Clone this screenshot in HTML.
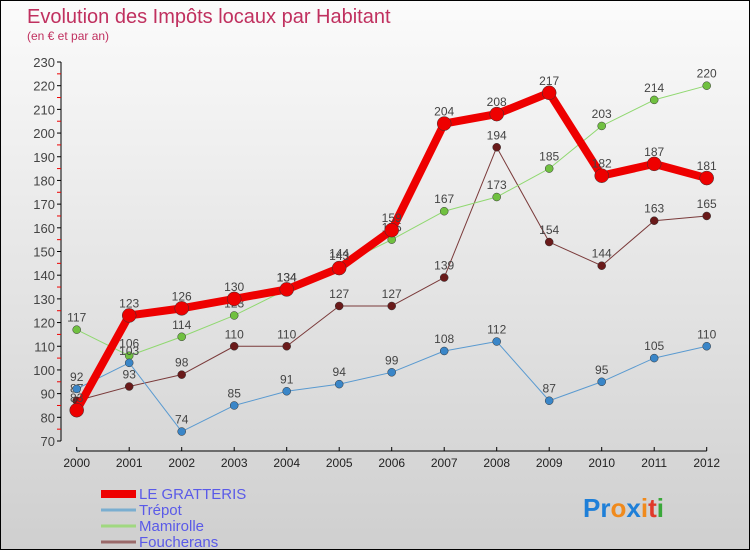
<!DOCTYPE html>
<html><head><meta charset="utf-8"><style>
html,body{margin:0;padding:0}
body{width:750px;height:550px;overflow:hidden;font-family:"Liberation Sans",sans-serif}
#wrap{position:relative;width:748px;height:548px;border:1px solid #000;background:linear-gradient(#fbfbfb,#cfcfcf)}
</style></head><body>
<div id="wrap">
<svg id="chart" width="748" height="548" style="position:absolute;left:0;top:0">
<text x="26" y="22" font-size="20" fill="#c0305f">Evolution des Impôts locaux par Habitant</text>
<text x="26" y="39" font-size="12" fill="#c0305f">(en € et par an)</text>
<g id="axes"></g>
<g id="series"></g>
<g id="legend"></g>
<text x="582" y="516" font-size="26" font-weight="bold"><tspan fill="#1e7fd8">Pr</tspan><tspan fill="#f08a1c">o</tspan><tspan fill="#1e7fd8">x</tspan><tspan fill="#f08a1c">i</tspan><tspan fill="#e03a2a">t</tspan><tspan fill="#3aa83a">i</tspan></text>
</svg>
</div>
<script>
const years=["2000","2001","2002","2003","2004","2005","2006","2007","2008","2009","2010","2011","2012"];
const gratteris=[83,123,126,130,134,143,159,204,208,217,182,187,181];
const trepot=[92,103,74,85,91,94,99,108,112,87,95,105,110];
const mamirolle=[117,106,114,123,134,144,155,167,173,185,203,214,220];
const foucherans=[87,93,98,110,110,127,127,139,194,154,144,163,165];
const yTicks=[70,80,90,100,110,120,130,140,150,160,170,180,190,200,210,220,230];
const seriesNames=["LE GRATTERIS","Trépot","Mamirolle","Foucherans"];
const NS="http://www.w3.org/2000/svg";
function X(i){return 75.7+i*52.5;}
function Y(v){return 440-(v-70)*(379/160);}
function mk(t,a,p){const e=document.createElementNS(NS,t);for(const k in a)e.setAttribute(k,a[k]);p.appendChild(e);return e;}
const ax=document.getElementById('axes');
let l=mk('line',{x1:60,y1:Y(230),x2:60,y2:440,stroke:'#000'},ax);


yTicks.forEach(v=>{
  mk('line',{x1:56,y1:Y(v),x2:60,y2:Y(v),stroke:'#000'},ax);
  if(v<230)mk('line',{x1:56,y1:Y(v+5),x2:60,y2:Y(v+5),stroke:'#e00'},ax);
  const t=mk('text',{x:54,y:Y(v)+5,'text-anchor':'end','font-size':13,fill:'#444'},ax);t.textContent=v;
  
  
});
l=mk('line',{x1:X(0),y1:450,x2:X(12),y2:450,stroke:'#000'},ax);


years.forEach((y,i)=>{
  mk('line',{x1:X(i),y1:446,x2:X(i),y2:450,stroke:'#000'},ax);
  const t=mk('text',{x:X(i),y:466,'text-anchor':'middle','font-size':12,fill:'#222'},ax);t.textContent=y;
  
  
});
const sg=document.getElementById('series');
function draw(data,color,w,r,dot,name){
  const g=mk('g',{},sg);
  
  
  mk('polyline',{points:data.map((v,i)=>X(i)+','+Y(v)).join(' '),fill:'none',stroke:color,'stroke-width':w,'stroke-linejoin':'round'},g);
  data.forEach((v,i)=>{
    const c=mk('circle',{cx:X(i),cy:Y(v),r:r,fill:dot,stroke:'#333','stroke-width':0.5},g);
    
    
    const t=mk('text',{x:X(i),y:Y(v)-8,'text-anchor':'middle','font-size':12,fill:'#444'},g);t.textContent=v;
  });
}
draw(foucherans,'#7a3a3a',1,4,'#6a1a1a','series-foucherans');
draw(mamirolle,'#90d870',1,4,'#70c040','series-mamirolle');
draw(trepot,'#5a9ad0',1,4,'#3a86c8','series-trepot');
draw(gratteris,'#ee0000',8,7,'#ee0000','series-le-gratteris');
const lg=document.getElementById('legend');
const cols=['#ee0000','#7aaed0','#a0d880','#9a6a6a'];const ws=[8,3,3,3];
seriesNames.forEach((n,i)=>{
  const y=493+i*16;
  const g=mk('g',{},lg);
  
  
  mk('line',{x1:100,y1:y,x2:135,y2:y,stroke:cols[i],'stroke-width':ws[i]},g);
  const t=mk('text',{x:138,y:y+5,'font-size':15,fill:'#5a5ae8'},g);t.textContent=n;
});
</script>
</body></html>
